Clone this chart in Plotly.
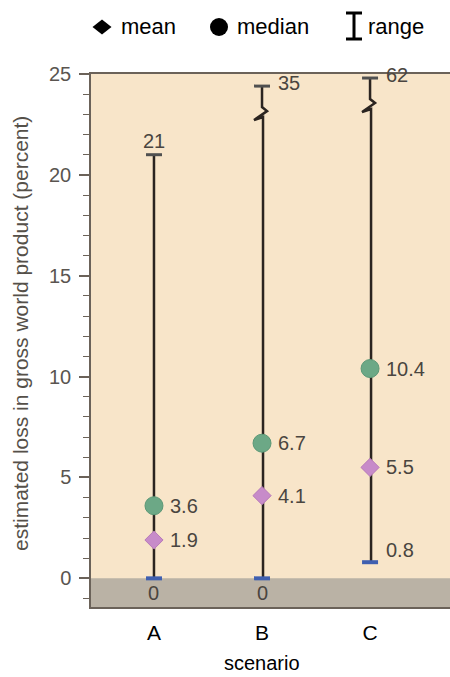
import plotly.graph_objects as go

categories = ["A", "B", "C"]
mean_vals = [1.9, 4.1, 5.5]
median_vals = [3.6, 6.7, 10.4]
min_vals = [0, 0, 0.8]
max_vals = [21, 35, 62]
y_ticks = [0, 5, 10, 15, 20, 25]

# styling / geometry
W, H = 450, 677
ML, MR, MT, MB = 91, 0, 74, 70
Y_MIN, Y_MAX = -1.42, 25
X_MIN, X_MAX = -0.583, 2.74
px_x = (X_MAX - X_MIN) / (W - ML - MR)        # data units per pixel (x)
px_y = (Y_MAX - Y_MIN) / (H - MT - MB)        # data units per pixel (y)
clip_top = {1: 24.4, 2: 24.8}                 # where truncated ranges are drawn

LINE_C = "#2b2420"
CAP_TOP_C = "#505050"
CAP_BOT_C = "#3f5fb0"
MED_C = "#6ca886"
MEAN_C = "#c78bc9"
LAB_C = "#4a4540"
AX_C = "#6b6259"
FONT = "Liberation Sans, Arial, sans-serif"

fig = go.Figure()
shapes = []
annotations = []

xs = list(range(len(categories)))

# gray band below zero
shapes.append(dict(type="rect", xref="paper", yref="y", x0=0, x1=1, y0=Y_MIN, y1=0,
                   fillcolor="#bab2a5", line_width=0, layer="below"))

LAB_FONT = dict(size=20, color=LAB_C, family=FONT)

for i, x in enumerate(xs):
    lo = min_vals[i]
    hi = max_vals[i]
    if hi <= Y_MAX - 1:
        px = [x, x]
        py = [lo, hi]
        top = hi
    else:
        top = clip_top[i]
        y0 = top - 21 * px_y  # end of upper vertical
        # lightning-style break (pixel offsets)
        pts = [(0, 0), (5, 4), (-8, 13), (1, 10)]
        px = [x]
        py = [top]
        for dx, dy in pts:
            px.append(x + dx * px_x)
            py.append(y0 - dy * px_y)
        px.append(x + 1 * px_x)
        py.append(lo)
    fig.add_trace(go.Scatter(x=px, y=py, mode="lines", line=dict(color=LINE_C, width=2.5),
                             hoverinfo="skip", showlegend=False))
    # caps
    hw = 8 * px_x
    fig.add_trace(go.Scatter(x=[x - hw, x + hw], y=[top, top], mode="lines",
                             line=dict(color=CAP_TOP_C, width=3), hoverinfo="skip", showlegend=False))
    fig.add_trace(go.Scatter(x=[x - hw, x + hw], y=[lo, lo], mode="lines",
                             line=dict(color=CAP_BOT_C, width=4), hoverinfo="skip", showlegend=False))
    # max label
    if hi <= Y_MAX - 1:
        annotations.append(dict(x=x, y=top, text=str(hi), showarrow=False, yshift=14,
                                font=LAB_FONT))
    else:
        annotations.append(dict(x=x, y=top, text=str(hi), showarrow=False, xanchor="left",
                                xshift=14, yshift=3, font=LAB_FONT))
    # min label
    if lo == 0:
        annotations.append(dict(x=x, y=lo, text="0", showarrow=False, yshift=-15,
                                font=LAB_FONT))
    else:
        annotations.append(dict(x=x, y=lo, text=str(lo), showarrow=False, xanchor="left",
                                xshift=14, yshift=12, font=LAB_FONT))
    annotations.append(dict(x=x, y=median_vals[i], text=str(median_vals[i]), showarrow=False,
                            xanchor="left", xshift=14, font=LAB_FONT))
    annotations.append(dict(x=x, y=mean_vals[i], text=str(mean_vals[i]), showarrow=False,
                            xanchor="left", xshift=14, font=LAB_FONT))

fig.add_trace(go.Scatter(x=xs, y=median_vals, mode="markers",
                         marker=dict(symbol="circle", size=18, color=MED_C,
                                     line=dict(color="#5c9877", width=1)),
                         showlegend=False, name="median"))
fig.add_trace(go.Scatter(x=xs, y=mean_vals, mode="markers",
                         marker=dict(symbol="diamond", size=14, color=MEAN_C,
                                     line=dict(color="#b779b9", width=1)),
                         showlegend=False, name="mean"))

# legend (drawn in the top margin)
def pxp(x):
    return (x - ML) / (W - ML - MR)

def pyp(y):
    return (H - MB - y) / (H - MT - MB)

shapes.append(dict(type="path", xref="paper", yref="paper", xsizemode="pixel", ysizemode="pixel",
                   xanchor=pxp(102), yanchor=pyp(27), path="M -9.5 0 L 0 7.5 L 9.5 0 L 0 -7.5 Z",
                   fillcolor="black", line_width=0))
shapes.append(dict(type="circle", xref="paper", yref="paper", xsizemode="pixel", ysizemode="pixel",
                   xanchor=pxp(219), yanchor=pyp(27), x0=-9, x1=9, y0=-9, y1=9,
                   fillcolor="black", line_width=0))
shapes.append(dict(type="path", xref="paper", yref="paper", xsizemode="pixel", ysizemode="pixel",
                   xanchor=pxp(354), yanchor=pyp(26),
                   path="M -8 13 L 8 13 M 0 13 L 0 -13 M -8 -13 L 8 -13",
                   line=dict(color="black", width=3)))
for tx, t in [(119, "mean"), (235, "median"), (366, "range")]:
    annotations.append(dict(xref="paper", yref="paper", x=pxp(tx), y=pyp(27), text=t,
                            showarrow=False, xanchor="left", yanchor="middle",
                            font=dict(size=22, color="black", family=FONT)))

# axis titles
annotations.append(dict(xref="paper", yref="paper", x=pxp(20), y=pyp(334),
                        xanchor="center", yanchor="middle",
                        text="estimated loss in gross world product (percent)", textangle=-90,
                        showarrow=False, font=dict(size=21, color="#555049", family=FONT)))
annotations.append(dict(xref="paper", yref="paper", x=pxp(262), y=pyp(663), text="scenario",
                        xanchor="center", yanchor="middle",
                        showarrow=False, font=dict(size=20, color="black", family=FONT)))

fig.update_layout(
    width=W, height=H,
    margin=dict(l=ML, r=MR, t=MT, b=MB),
    paper_bgcolor="white",
    plot_bgcolor="#f8e5c9",
    shapes=shapes,
    annotations=annotations,
    showlegend=False,
    xaxis=dict(range=[X_MIN, X_MAX], tickvals=xs, ticktext=categories, showgrid=False,
               zeroline=False, showline=True, mirror=True, linecolor=AX_C, linewidth=1.5,
               ticks="", ticklabelstandoff=6,
               tickfont=dict(size=21, color="black", family=FONT), fixedrange=True),
    yaxis=dict(range=[Y_MIN, Y_MAX], tickvals=y_ticks, showgrid=False, zeroline=False,
               showline=True, linecolor=AX_C, linewidth=1.5, ticks="outside", ticklen=10,
               tickwidth=1.5, tickcolor=AX_C, ticklabelstandoff=4,
               minor=dict(dtick=1, tick0=0, ticks="outside", ticklen=6, tickwidth=1.2, tickcolor=AX_C),
               tickfont=dict(size=20, color="#5a5550", family=FONT), fixedrange=True),
)

fig.write_html(
    "out.html",
    config={"displayModeBar": False},
    post_script=(
        "document.documentElement.style.margin='0';"
        "document.documentElement.style.overflow='hidden';"
        "document.body.style.margin='0';"
        "document.body.style.padding='0';"
        "document.body.style.overflow='hidden';"
    ),
)
